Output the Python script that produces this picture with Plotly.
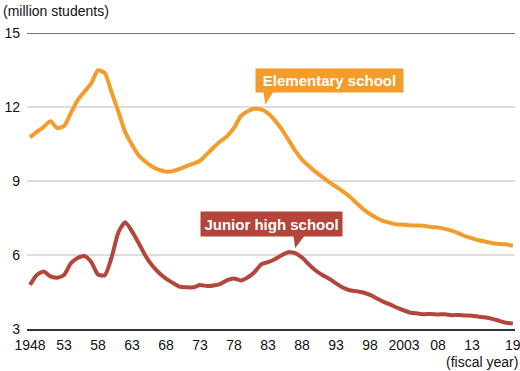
import plotly.graph_objects as go

years = list(range(1948, 2020))
elementary = [10.77, 10.99, 11.19, 11.42, 11.15, 11.23, 11.75, 12.27, 12.62, 12.96,
              13.49, 13.37, 12.59, 11.81, 10.98, 10.47, 10.03, 9.78, 9.58, 9.45,
              9.38, 9.40, 9.49, 9.60, 9.70, 9.82, 10.09, 10.36, 10.61, 10.82,
              11.15, 11.63, 11.83, 11.93, 11.90, 11.74, 11.46, 11.10, 10.67, 10.23,
              9.87, 9.61, 9.37, 9.16, 8.95, 8.77, 8.58, 8.37, 8.11, 7.86,
              7.66, 7.50, 7.37, 7.30, 7.24, 7.23, 7.20, 7.20, 7.19, 7.13,
              7.12, 7.06, 6.99, 6.89, 6.76, 6.68, 6.60, 6.54, 6.48, 6.45,
              6.43, 6.37]
junior_high = [4.79, 5.19, 5.33, 5.13, 5.08, 5.19, 5.66, 5.88, 5.96, 5.72,
               5.21, 5.18, 5.90, 6.92, 7.33, 6.96, 6.48, 5.96, 5.56, 5.27,
               5.04, 4.87, 4.72, 4.69, 4.69, 4.78, 4.74, 4.76, 4.83, 4.98,
               5.05, 4.97, 5.09, 5.30, 5.62, 5.71, 5.83, 5.99, 6.11, 6.08,
               5.90, 5.62, 5.37, 5.19, 5.04, 4.85, 4.68, 4.57, 4.53, 4.48,
               4.38, 4.24, 4.10, 3.99, 3.86, 3.75, 3.66, 3.63, 3.60, 3.61,
               3.59, 3.60, 3.56, 3.57, 3.55, 3.54, 3.50, 3.47, 3.41, 3.33,
               3.25, 3.22]
x_tickvals = [1948, 1953, 1958, 1963, 1968, 1973, 1978, 1983, 1988, 1993, 1998, 2003, 2008, 2013, 2019]
x_ticktext = ["1948", "53", "58", "63", "68", "73", "78", "83", "88", "93", "98", "2003", "08", "13", "19"]
y_tickvals = [3, 6, 9, 12, 15]

ORANGE = "#F39B2B"
RED = "#B3453B"
FONT = "Liberation Sans, Arial, sans-serif"

fig = go.Figure()
fig.add_trace(go.Scatter(x=years, y=elementary, mode="lines",
                         line=dict(color=ORANGE, width=4, shape="spline", smoothing=0.6),
                         name="Elementary school", hoverinfo="x+y"))
fig.add_trace(go.Scatter(x=years, y=junior_high, mode="lines",
                         line=dict(color=RED, width=4, shape="spline", smoothing=0.6),
                         name="Junior high school", hoverinfo="x+y"))

# top line at 15
fig.add_shape(type="line", xref="paper", x0=0, x1=1, yref="y", y0=15, y1=15,
              line=dict(color="#444444", width=1.5), layer="below")

# callout pointers
fig.add_shape(type="path", xref="x", yref="y", xsizemode="pixel", ysizemode="pixel",
              xanchor=1982.6, yanchor=12.1, path="M 0,0 L -2,14 L 9,14 Z",
              fillcolor=ORANGE, line=dict(width=0))
fig.add_shape(type="path", xref="x", yref="y", xsizemode="pixel", ysizemode="pixel",
              xanchor=1987.0, yanchor=6.28, path="M 0,0 L -2,13 L 10,13 Z",
              fillcolor=RED, line=dict(width=0))

fig.add_annotation(x=1992.0, y=13.07, xref="x", yref="y", text="<b>Elementary school</b>",
                   showarrow=False, bgcolor=ORANGE, width=147, height=23, borderpad=0,
                   font=dict(color="white", size=15, family=FONT),
                   xanchor="center", yanchor="middle")
fig.add_annotation(x=1983.5, y=7.24, xref="x", yref="y", text="<b>Junior high school</b>",
                   showarrow=False, bgcolor=RED, width=141, height=24, borderpad=0,
                   font=dict(color="white", size=15, family=FONT),
                   xanchor="center", yanchor="middle")

fig.add_annotation(x=0, y=1, xref="paper", yref="paper", xanchor="left", yanchor="bottom",
                   xshift=-26, yshift=12, text="(million students)", showarrow=False,
                   font=dict(size=14, color="#111111", family=FONT))
fig.add_annotation(x=1, y=0, xref="paper", yref="paper", xanchor="right", yanchor="top",
                   xshift=5, yshift=-23, text="(fiscal year)", showarrow=False,
                   font=dict(size=14, color="#111111", family=FONT))

fig.update_layout(
    width=520, height=371,
    margin=dict(l=27, r=5, t=33, b=42),
    plot_bgcolor="white", paper_bgcolor="white",
    showlegend=False,
    font=dict(family=FONT, size=14, color="#111111"),
    xaxis=dict(range=[1947.56, 2019.32], tickvals=x_tickvals, ticktext=x_ticktext,
               showgrid=False, zeroline=False, showline=True, linecolor="#333333",
               linewidth=1.5, ticks="", tickfont=dict(size=14), fixedrange=True,
               automargin=False, ticklabeloverflow="allow", ticklabelstandoff=2),
    yaxis=dict(range=[3, 15], tickvals=y_tickvals, showgrid=True, gridcolor="#DDDDDD",
               gridwidth=1.5, zeroline=False, showline=False, ticks="",
               tickfont=dict(size=14), ticklabelstandoff=6, fixedrange=True,
               automargin=False),
)

fig.write_html("out.html", config={"displayModeBar": False},
               post_script="document.body.style.margin='0';")
